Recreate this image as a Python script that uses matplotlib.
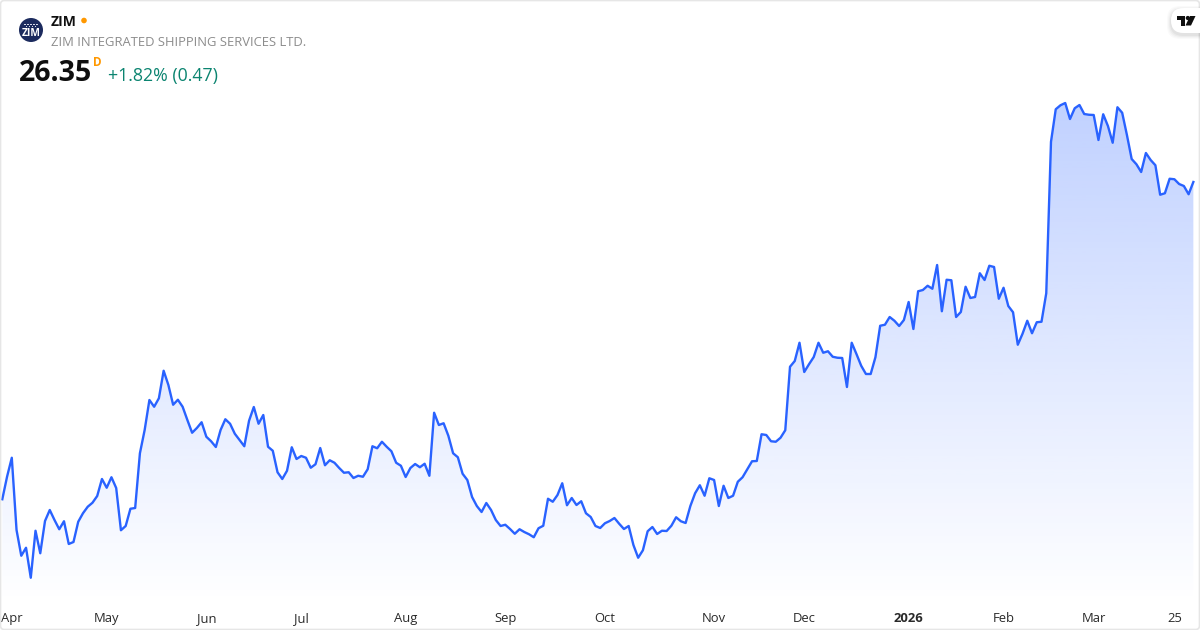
import matplotlib
matplotlib.use('Agg')
import matplotlib.pyplot as plt
import numpy as np
from matplotlib.patches import Circle, FancyBboxPatch, Polygon, Rectangle

plt.rcParams['font.family'] = ['Open Sans', 'DejaVu Sans']

# daily closes
close = [
    13.66, 14.56, 15.32, 12.43, 11.40, 11.72, 10.52, 12.40, 11.50, 12.79,
    13.23, 12.83, 12.46, 12.78, 11.87, 11.95, 12.76, 13.10, 13.36, 13.52,
    13.79, 14.47, 14.12, 14.54, 14.11, 12.42, 12.59, 13.28, 13.31, 15.50,
    16.43, 17.63, 17.36, 17.70, 18.80, 18.23, 17.44, 17.64, 17.36, 16.83,
    16.32, 16.51, 16.74, 16.16, 15.98, 15.75, 16.43, 16.86, 16.68, 16.28,
    16.03, 15.78, 16.80, 17.35, 16.68, 17.03, 15.76, 15.60, 14.74, 14.47,
    14.80, 15.74, 15.27, 15.39, 15.32, 14.92, 15.06, 15.71, 15.02, 15.22,
    15.12, 14.91, 14.72, 14.74, 14.51, 14.60, 14.56, 14.86, 15.78, 15.70,
    15.96, 15.76, 15.58, 15.12, 15.00, 14.55, 14.91, 15.07, 14.94, 15.08,
    14.60, 17.12, 16.63, 16.70, 16.20, 15.50, 15.34, 14.68, 14.43, 13.75,
    13.39, 13.15, 13.51, 13.23, 12.83, 12.59, 12.64, 12.47, 12.28, 12.46,
    12.35, 12.26, 12.14, 12.50, 12.60, 13.68, 13.56, 13.83, 14.30, 13.42,
    13.71, 13.43, 13.58, 13.10, 12.95, 12.59, 12.51, 12.70, 12.79, 12.91,
    12.68, 12.47, 12.59, 11.83, 11.32, 11.62, 12.38, 12.55, 12.27, 12.40,
    12.39, 12.60, 12.94, 12.78, 12.71, 13.39, 13.90, 14.22, 13.80, 14.50,
    14.43, 13.39, 14.20, 13.71, 13.80, 14.36, 14.54, 14.86, 15.18, 15.19,
    16.26, 16.23, 15.98, 15.96, 16.12, 16.42, 18.96, 19.19, 19.92, 18.75,
    19.06, 19.35, 19.92, 19.52, 19.58, 19.36, 19.32, 19.31, 18.15, 19.92,
    19.47, 19.00, 18.67, 18.67, 19.34, 20.60, 20.64, 20.95, 20.80, 20.59,
    20.83, 21.55, 20.47, 21.98, 22.03, 22.20, 22.08, 23.03, 21.18, 22.44,
    22.42, 20.95, 21.15, 22.16, 21.71, 21.75, 22.70, 22.43, 23.00, 22.95,
    21.68, 22.12, 21.39, 21.14, 19.84, 20.28, 20.80, 20.30, 20.74, 20.76,
    21.90, 27.96, 29.26, 29.42, 29.51, 28.87, 29.30, 29.43, 29.07, 29.04,
    29.03, 28.03, 29.06, 28.59, 27.92, 29.34, 29.12, 28.23, 27.27, 27.06,
    26.75, 27.51, 27.23, 27.02, 25.84, 25.90, 26.48, 26.46, 26.27, 26.19,
    25.86, 26.35,
]
tick_pos = [2, 22, 43, 63, 85, 106, 127, 150, 169, 191, 211, 230, 247]
tick_labels = ['Apr', 'May', 'Jun', 'Jul', 'Aug', 'Sep', 'Oct', 'Nov', 'Dec', '2026', 'Feb', 'Mar', '25']

W, H = 1200, 630
x = np.arange(len(close))
bottom_px = 604

fig = plt.figure(figsize=(W / 100, H / 100), dpi=100, facecolor='white')
ax = fig.add_axes([0, 1 - bottom_px / H, 1, bottom_px / H])
ax.set_xlim(-0.485, 252.4)
ax.set_ylim(33.63 - 0.04 * bottom_px, 33.63)
for s in ax.spines.values():
    s.set_visible(False)
ax.yaxis.set_visible(False)

# vertical blue fade under the line, clipped to the area
alpha = np.linspace(0.30, 0.0, 256).reshape(-1, 1)
rgba = np.zeros((256, 1, 4))
rgba[..., 0] = 41 / 255
rgba[..., 1] = 98 / 255
rgba[..., 2] = 1.0
rgba[..., 3] = alpha
y0, y1 = ax.get_ylim()
grad = ax.imshow(rgba, extent=[x[0], x[-1], y0, 33.63 - 0.04 * 90], origin='upper', aspect='auto', zorder=1)
area = Polygon(list(zip(x, close)) + [(x[-1], y0), (x[0], y0)], closed=True, transform=ax.transData, fc='none', ec='none')
ax.add_patch(area)
grad.set_clip_path(area)
ax.set_xlim(-0.485, 252.4)
ax.set_ylim(y0, y1)

ax.plot(x, close, color='#2962ff', lw=1.7, solid_joinstyle='round', zorder=2)

ax.set_xticks(tick_pos)
ax.set_xticklabels(tick_labels)
ax.tick_params(axis='x', length=0, pad=6, labelsize=9.4, labelcolor='#2a2a2a')
ax.get_xticklabels()[9].set_fontweight('bold')

# overlay in pixel coordinates for the header and card
ov = fig.add_axes([0, 0, 1, 1], facecolor='none')
ov.set_xlim(0, W)
ov.set_ylim(H, 0)
ov.axis('off')

ov.add_patch(FancyBboxPatch((0.5, 0.5), W - 1, H - 1, boxstyle='round,pad=0,rounding_size=4', fc='none', ec='#e6e6e6', lw=1.2))

# logo
ov.add_patch(Circle((31, 30), 12, fc='#1c2b5e', ec='none'))
for dx in [-6, -3, 0, 3, 6]:
    ov.add_patch(Rectangle((31 + dx - 0.9, 23.5), 1.8, 1.6, fc='#d5d9e8', ec='none'))
for dx in [-4.5, -1.5, 1.5, 4.5]:
    ov.add_patch(Rectangle((31 + dx - 0.9, 26), 1.8, 1.4, fc='#d5d9e8', ec='none'))
ov.text(31, 33, 'ZIM', color='white', fontsize=7.4, fontweight='bold', ha='center', va='center')

ov.text(51, 22, 'ZIM', color='#111111', fontsize=10, fontweight='bold', ha='left', va='center')
ov.add_patch(Circle((84, 20.5), 2.8, fc='#ff9800', ec='none'))
ov.text(51, 42, 'ZIM INTEGRATED SHIPPING SERVICES LTD.', color='#8c8c8c', fontsize=9.37, ha='left', va='center')
ov.text(19, 73.5, '26.35', color='#0f0f0f', fontsize=20.5, fontweight='bold', ha='left', va='center')
ov.text(93, 62.5, 'D', color='#ff9800', fontsize=8.5, fontweight='bold', ha='left', va='center')
ov.text(108, 76, '+1.82% (0.47)', color='#0b8470', fontsize=12.8, ha='left', va='center')

# TradingView badge, soft shadow under a white pill
for grow, a in [(4, 0.02), (3, 0.025), (2, 0.03), (1, 0.04)]:
    ov.add_patch(FancyBboxPatch((1171 - grow, 9 - grow + 1), 44, 25 + 2 * grow, boxstyle='round,pad=0,rounding_size=13', fc='black', ec='none', alpha=a))
ov.add_patch(FancyBboxPatch((1171, 8), 44, 25, boxstyle='round,pad=0,rounding_size=12.5', fc='white', ec='none'))
ov.add_patch(Polygon([(1177, 16), (1185, 16), (1185, 25.5), (1181, 25.5), (1181, 20), (1177, 20)], fc='#0f0f0f', ec='none'))
ov.add_patch(Circle((1187.8, 18), 2.1, fc='#0f0f0f', ec='none'))
ov.add_patch(Polygon([(1190, 16), (1195.5, 16), (1191, 25.5), (1185.5, 25.5)], fc='#0f0f0f', ec='none'))

fig.savefig('out.png', dpi=100)
